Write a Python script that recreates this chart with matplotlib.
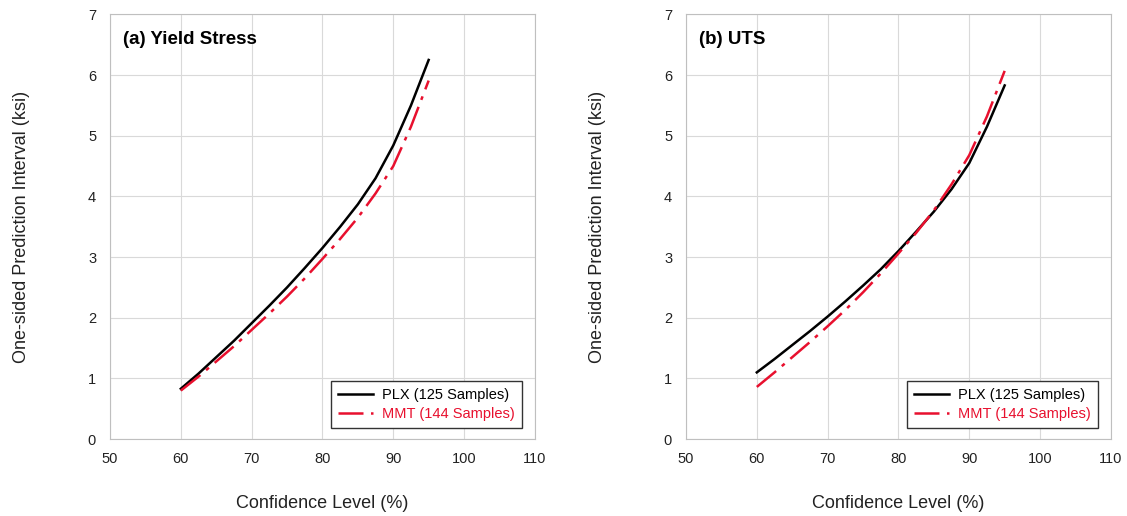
import numpy as np
import matplotlib.pyplot as plt

plt.rcParams['font.family'] = ['Liberation Sans', 'DejaVu Sans']

conf = [60, 62.5, 65, 67.5, 70, 72.5, 75, 77.5, 80, 82.5, 85, 87.5, 90, 92.5, 95]

ys_plx = [0.83, 1.08, 1.35, 1.62, 1.91, 2.20, 2.50, 2.82, 3.15, 3.50, 3.87, 4.30, 4.84, 5.50, 6.25]
ys_mmt = [0.80, 1.03, 1.28, 1.53, 1.80, 2.07, 2.35, 2.65, 2.97, 3.30, 3.65, 4.05, 4.50, 5.15, 5.91]

uts_plx = [1.10, 1.32, 1.55, 1.78, 2.02, 2.27, 2.53, 2.80, 3.10, 3.42, 3.75, 4.12, 4.55, 5.15, 5.83]
uts_mmt = [0.86, 1.10, 1.35, 1.60, 1.86, 2.13, 2.42, 2.73, 3.06, 3.40, 3.77, 4.20, 4.68, 5.32, 6.07]

titles = ['(a) Yield Stress', '(b) UTS']
series = [(ys_plx, ys_mmt), (uts_plx, uts_mmt)]

fig = plt.figure(figsize=(11.27, 5.16), dpi=100)
lefts = [0.0976, 0.6087]
for left, title, (plx, mmt) in zip(lefts, titles, series):
    ax = fig.add_axes([left, 0.149, 0.377, 0.823])
    ax.plot(conf, plx, color='black', lw=1.8, label='PLX (125 Samples)')
    ax.plot(conf, mmt, color='#e8102e', lw=1.8, dashes=(10, 3, 1.5, 3),
            label='MMT (144 Samples)')
    ax.set_xlim(50, 110)
    ax.set_ylim(0, 7)
    ax.set_xticks(np.arange(50, 111, 10))
    ax.set_yticks(np.arange(0, 8, 1))
    ax.grid(True, color='#d9d9d9', lw=0.8)
    ax.tick_params(length=0, labelsize=10.5, colors='#222222')
    ax.tick_params(axis='x', pad=9)
    ax.tick_params(axis='y', pad=10)
    for s in ax.spines.values():
        s.set_color('#bfbfbf')
    ax.set_xlabel('Confidence Level (%)', fontsize=13, labelpad=21, color='#222222')
    ax.set_ylabel('One-sided Prediction Interval (ksi)', fontsize=13, labelpad=42,
                  color='#222222')
    ax.text(0.03, 0.942, title, transform=ax.transAxes, fontsize=13.5,
            fontweight='bold', va='center')
    leg = ax.legend(loc='lower right', fontsize=10.5, fancybox=False,
                    framealpha=1, edgecolor='#333333', handlelength=2.4,
                    handletextpad=0.6, borderpad=0.5, labelspacing=0.3,
                    borderaxespad=0, bbox_to_anchor=(0.969, 0.026))
    leg.get_frame().set_linewidth(1.0)
    leg.get_texts()[1].set_color('#e8102e')

fig.savefig('out.png', dpi=100)
